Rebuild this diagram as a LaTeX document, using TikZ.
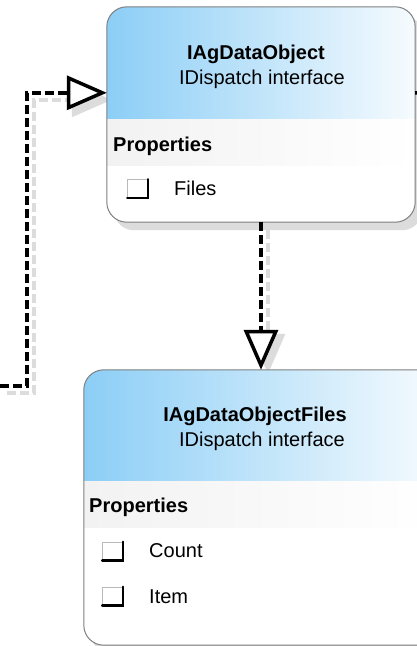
\documentclass[tikz,border=0pt]{standalone}
\usepackage{fontspec}
\setmainfont{Liberation Sans}
\usetikzlibrary{arrows.meta}
\definecolor{hdblue}{HTML}{8CCEF6}
\definecolor{hdmid}{HTML}{B0DEF9}
\definecolor{hdwhite}{HTML}{F6FBFE}
\definecolor{bandgray}{HTML}{F2F2F2}
\definecolor{boxgray}{HTML}{7F7F7F}
\definecolor{shadegray}{HTML}{DCDCDC}
\tikzset{umlbox/.style = {rectangle, inner sep = 0}}
\tikzset{boxline/.style = {draw = boxgray, line width = 1pt, rounded corners = 20pt}}
\tikzset{boxshadow/.style = {fill = shadegray, rounded corners = 20pt}}
\tikzset{txt/.style = {inner sep = 0, text height = 14.3pt, text depth = 0pt, font = \fontsize{20}{24}\selectfont}}
\tikzset{ttl/.style = {txt, font = \fontsize{20}{24}\selectfont\bfseries}}
\tikzset{chk/.style = {draw = gray!55, line width = 0.8pt, minimum width = 20pt, minimum height = 18pt, inner sep = 0}}
\tikzset{chkedge/.style = {line width = 2.2pt, line cap = round}}
\tikzset{conn/.style = {line width = 3.5pt, dash pattern = on 9pt off 4pt, -{Triangle[open, fill = white, length = 40pt, width = 34pt]}}}
\tikzset{connshadow/.style = {draw = shadegray, line width = 3.5pt, dash pattern = on 9pt off 4pt, -{Triangle[fill = shadegray, length = 40pt, width = 34pt]}}}

\begin{document}
\begin{tikzpicture}[x = 1pt, y = -1pt]
  \clip (0, 0) rectangle (417, 646);

  \node [umlbox, minimum width = 308pt, minimum height = 215pt] (obj) at (261, 114.5) {};
  \node [umlbox, minimum width = 354pt, minimum height = 275pt] (files) at (261, 507.5) {};
  \coordinate (objin) at ([yshift = -86pt]obj.north west);
  \coordinate (objout) at ([yshift = -86pt]obj.north east);
  \coordinate (lft) at (0, 386);
  \coordinate (bendl) at (27, 386);
  \coordinate (rgt) at (430, 93);

  % shadows
  \draw [connshadow] ([shift = {(7pt, -7pt)}]lft) -- ([shift = {(7pt, -7pt)}]bendl) |- ([shift = {(5pt, -7pt)}]objin);
  \draw [connshadow] ([shift = {(7pt, -8pt)}]obj.south) -- ([shift = {(7pt, -4pt)}]files.north);
  \fill [boxshadow] ([shift = {(7pt, -8pt)}]obj.north west) rectangle ([shift = {(7pt, -8pt)}]obj.south east);
  \fill [boxshadow] ([shift = {(7pt, -8pt)}]files.north west) rectangle ([shift = {(7pt, -8pt)}]files.south east);

  % IAgDataObject
  \begin{scope}
    \clip [rounded corners = 20pt] (obj.north west) rectangle (obj.south east);
    \fill [white] (obj.north west) rectangle (obj.south east);
    \shade [left color = hdblue, middle color = hdmid, right color = hdwhite] (obj.north west) rectangle ([yshift = -113pt]obj.north east);
    \shade [left color = bandgray, right color = white] ([yshift = -113pt]obj.north west) rectangle ([yshift = -159pt]obj.north east);
  \end{scope}
  \draw [boxline] (obj.north west) rectangle (obj.south east);
  \node [ttl] (objttl) at (256, 52) {IAgDataObject};
  \node [txt] (objsub) at (262, 77) {IDispatch interface};
  \node [ttl, anchor = west] (objprop) at (113, 144) {Properties};
  \node [chk] (objchk) at (137.5, 188.5) {};
  \node [txt, anchor = west] (objfiles) at (174, 188) {Files};

  % IAgDataObjectFiles
  \begin{scope}
    \clip [rounded corners = 20pt] (files.north west) rectangle (files.south east);
    \fill [white] (files.north west) rectangle (files.south east);
    \shade [left color = hdblue, middle color = hdmid, right color = hdwhite] (files.north west) rectangle ([yshift = -112pt]files.north east);
    \shade [left color = bandgray, right color = white] ([yshift = -112pt]files.north west) rectangle ([yshift = -158pt]files.north east);
  \end{scope}
  \draw [boxline] (files.north west) rectangle (files.south east);
  \node [ttl] (filesttl) at (255, 414) {IAgDataObjectFiles};
  \node [txt] (filessub) at (262, 439) {IDispatch interface};
  \node [ttl, anchor = west] (filesprop) at (89, 505) {Properties};
  \node [chk] (countchk) at (112.5, 551) {};
  \node [txt, anchor = west] (count) at (149, 550) {Count};
  \node [chk] (itemchk) at (112.5, 596) {};
  \node [txt, anchor = west] (item) at (149, 596) {Item};

  \foreach \c in {objchk, countchk, itemchk}
    \draw [chkedge] (\c.south west) -- (\c.south east) -- (\c.north east);

  % connectors
  \draw [conn] (lft) -- (bendl) |- (objin);
  \draw [conn] (obj.south) -- (files.north);
  \draw [line width = 3.5pt, dash pattern = on 9pt off 4pt] (objout) -- (rgt);
\end{tikzpicture}
\end{document}
